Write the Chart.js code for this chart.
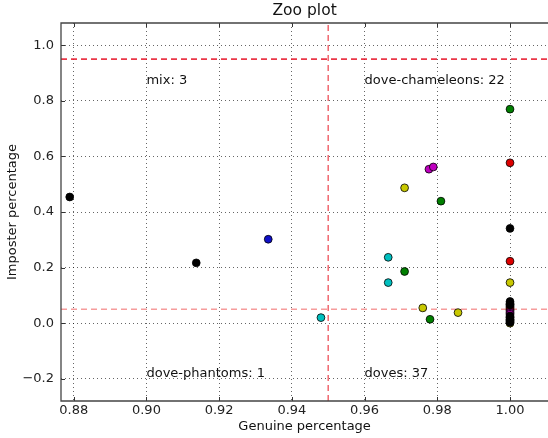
<!DOCTYPE html>
<html>
<head>
<meta charset="utf-8">
<script src="https://cdn.jsdelivr.net/npm/chart.js@4.4.1/dist/chart.umd.min.js"></script>
<style>
  html, body { margin: 0; padding: 0; background: #fff; overflow: hidden; }
  #wrap { width: 553px; height: 438px; }
</style>
</head>
<body>
<div id="wrap"><canvas id="zoo"></canvas></div>
<script>
// axis ticks and ranges
const xTicks = [0.88, 0.90, 0.92, 0.94, 0.96, 0.98, 1.00];
const yTicks = [-0.2, 0.0, 0.2, 0.4, 0.6, 0.8, 1.0];
const xRange = [0.8765, 1.0105];
const yRange = [-0.28, 1.08];

// thresholds
const genuineThreshold = 0.95;
const imposterHigh = 0.95;
const imposterLow = 0.05;

// users, grouped by marker colour
const blackGenuine = [0.8789, 0.9137, 1.00, 1.00, 1.00, 1.00, 1.00, 1.00, 1.00, 1.00, 1.00, 1.00];
const blackImposter = [0.454, 0.217, 0.341, 0.078, 0.072, 0.066, 0.026, 0.020, 0.015, 0.010, 0.006, 0.003];
const blueGenuine = [0.9335, 1.00];
const blueImposter = [0.302, 0.062];
const greenGenuine = [1.00, 0.981, 0.971, 0.978, 1.00, 1.00];
const greenImposter = [0.770, 0.439, 0.186, 0.014, 0.058, 0.022];
const redGenuine = [1.00, 1.00, 1.00, 1.00, 1.00];
const redImposter = [0.577, 0.223, 0.054, 0.049, 0.045];
const cyanGenuine = [0.9665, 0.9665, 0.948, 1.00, 1.00];
const cyanImposter = [0.237, 0.146, 0.020, 0.068, 0.012];
const magentaGenuine = [0.9777, 0.9789, 1.00, 1.00, 1.00];
const magentaImposter = [0.554, 0.562, 0.040, 0.036, 0.032];
const yellowGenuine = [0.971, 1.00, 0.976, 0.9857, 1.00];
const yellowImposter = [0.487, 0.146, 0.055, 0.038, 0.000];

// region labels
const regionLabels = ["mix: 3", "dove-chameleons: 22", "dove-phantoms: 1", "doves: 37"];
const regionX = [0.90, 0.96, 0.90, 0.96];
const regionY = [0.86, 0.86, -0.195, -0.195];

const FONT = "'DejaVu Sans', sans-serif";

function points(xs, ys) {
  return xs.map((v, i) => ({ x: v, y: ys[i] }));
}

function users(xs, ys, color) {
  return {
    data: points(xs, ys),
    backgroundColor: color,
    borderColor: "#000",
    borderWidth: 0.8,
    pointRadius: 3.9,
    order: 0,
  };
}

function threshold(data, color) {
  return {
    data: data,
    showLine: true,
    borderColor: color,
    borderWidth: 1.6,
    borderDash: [6, 4],
    pointRadius: 0,
    order: 10,
  };
}

// drop the extra room chart.js keeps for edge labels
function noEdgePadding(scale) {
  scale.paddingLeft = 0;
  scale.paddingRight = 0;
  scale.paddingTop = 0;
  scale.paddingBottom = 0;
}

// frame, inward ticks and region labels
const framePlugin = {
  id: "frame",
  afterDraw(chart) {
    const { ctx, chartArea: a, scales: { x, y } } = chart;
    ctx.save();
    ctx.strokeStyle = "#333";
    ctx.lineWidth = 1;
    ctx.beginPath();
    xTicks.forEach((v) => {
      const px = Math.round(x.getPixelForValue(v)) + 0.5;
      ctx.moveTo(px, a.bottom); ctx.lineTo(px, a.bottom - 4);
      ctx.moveTo(px, a.top); ctx.lineTo(px, a.top + 4);
    });
    yTicks.forEach((v) => {
      const py = Math.round(y.getPixelForValue(v)) + 0.5;
      ctx.moveTo(a.left, py); ctx.lineTo(a.left + 4, py);
    });
    ctx.stroke();

    ctx.strokeStyle = "#444";
    ctx.lineWidth = 1.3;
    ctx.beginPath();
    ctx.moveTo(a.right + 2, a.top);
    ctx.lineTo(a.left, a.top);
    ctx.lineTo(a.left, a.bottom);
    ctx.lineTo(a.right + 2, a.bottom);
    ctx.stroke();

    ctx.font = "13px " + FONT;
    ctx.fillStyle = "#111";
    ctx.textBaseline = "alphabetic";
    ctx.textAlign = "left";
    regionLabels.forEach((t, i) => {
      ctx.fillText(t, x.getPixelForValue(regionX[i]), y.getPixelForValue(regionY[i]));
    });
    ctx.restore();
  },
};

const chart = new Chart(document.getElementById("zoo"), {
  type: "scatter",
  data: {
    datasets: [
      users(blackGenuine, blackImposter, "#000000"),
      users(magentaGenuine, magentaImposter, "#bf00bf"),
      users(redGenuine, redImposter, "#dd0000"),
      users(blueGenuine, blueImposter, "#1010c8"),
      users(greenGenuine, greenImposter, "#007f00"),
      users(cyanGenuine, cyanImposter, "#00bfbf"),
      users(yellowGenuine, yellowImposter, "#c8c800"),
      threshold([{ x: xRange[0], y: imposterHigh }, { x: xRange[1], y: imposterHigh }], "rgba(230,20,40,0.85)"),
      threshold([{ x: xRange[0], y: imposterLow }, { x: xRange[1], y: imposterLow }], "rgba(240,90,90,0.6)"),
      threshold([{ x: genuineThreshold, y: yRange[0] }, { x: genuineThreshold, y: yRange[1] }], "rgba(235,60,70,0.75)"),
    ],
  },
  options: {
    responsive: true,
    maintainAspectRatio: false,
    animation: false,
    layout: { padding: 0 },
    plugins: {
      legend: { display: false },
      tooltip: { enabled: false },
      title: {
        display: true,
        text: "Zoo plot",
        fullSize: false,
        color: "#111",
        font: { family: FONT, size: 15.5, weight: "normal" },
        padding: { top: 2, bottom: 2.4 },
      },
    },
    scales: {
      x: {
        type: "linear",
        min: xRange[0],
        max: xRange[1],
        afterBuildTicks(scale) { scale.ticks = xTicks.map((v) => ({ value: v })); },
        afterFit(scale) { scale.height = 37; noEdgePadding(scale); },
        border: { display: false, dash: [1, 3] },
        grid: { color: "rgba(0,0,0,0.6)", lineWidth: 1, drawTicks: false, tickLength: 0 },
        ticks: {
          color: "#222",
          padding: 2,
          maxRotation: 0,
          autoSkip: false,
          font: { family: FONT, size: 13 },
          callback: (v) => Number(v).toFixed(2),
        },
        title: {
          display: true,
          text: "Genuine percentage",
          color: "#111",
          font: { family: FONT, size: 13 },
          padding: { top: 0, bottom: 4 },
        },
      },
      y: {
        type: "linear",
        min: yRange[0],
        max: yRange[1],
        afterBuildTicks(scale) { scale.ticks = yTicks.map((v) => ({ value: v })); },
        afterFit(scale) { scale.width = 61; noEdgePadding(scale); },
        border: { display: false, dash: [1, 3] },
        grid: { color: "rgba(0,0,0,0.6)", lineWidth: 1, drawTicks: false, tickLength: 0 },
        ticks: {
          color: "#222",
          padding: 7,
          autoSkip: false,
          font: { family: FONT, size: 13 },
          callback: (v) => Number(v).toFixed(1).replace("-", "\u2212"),
        },
        title: {
          display: true,
          text: "Imposter percentage",
          color: "#111",
          font: { family: FONT, size: 13 },
          padding: { top: 5, bottom: 0 },
        },
      },
    },
  },
  plugins: [framePlugin],
});
</script>
</body>
</html>
